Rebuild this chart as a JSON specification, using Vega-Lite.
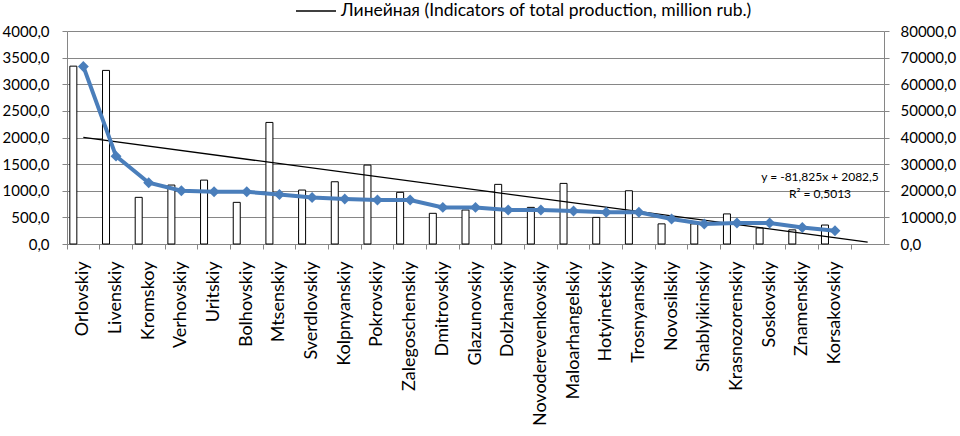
{
  "$schema": "https://vega.github.io/schema/vega-lite/v6.json",
  "width": 817,
  "height": 213,
  "autosize": "none",
  "padding": {"left": 67, "top": 31, "right": 76, "bottom": 192},
  "config": {
    "font": "Lato",
    "view": {"stroke": null},
    "axisY": {
      "title": null,
      "labelExpr": "replace(format(datum.value, '.1f'), '.', ',')",
      "labelFontSize": 15,
      "labelColor": "#000000",
      "labelOverlap": false,
      "tickSize": 5,
      "tickColor": "#868686",
      "domainColor": "#868686",
      "gridColor": "#868686"
    }
  },
  "datasets": {
    "districts": [
      {"district": "Orlovskiy", "indicator": 3340, "total": 66700},
      {"district": "Livenskiy", "indicator": 3260, "total": 33000},
      {"district": "Kromskoy", "indicator": 876, "total": 23000},
      {"district": "Verhovskiy", "indicator": 1107, "total": 20000},
      {"district": "Uritskiy", "indicator": 1200, "total": 19600},
      {"district": "Bolhovskiy", "indicator": 782, "total": 19600},
      {"district": "Mtsenskiy", "indicator": 2283, "total": 18600},
      {"district": "Sverdlovskiy", "indicator": 1013, "total": 17500},
      {"district": "Kolpnyanskiy", "indicator": 1169, "total": 16900},
      {"district": "Pokrovskiy", "indicator": 1482, "total": 16500},
      {"district": "Zalegoschenskiy", "indicator": 970, "total": 16500},
      {"district": "Dmitrovskiy", "indicator": 576, "total": 13750},
      {"district": "Glazunovskiy", "indicator": 638, "total": 13750},
      {"district": "Dolzhanskiy", "indicator": 1120, "total": 12750},
      {"district": "Novoderevenkovskiy", "indicator": 688, "total": 12750},
      {"district": "Maloarhangelskiy", "indicator": 1138, "total": 12400},
      {"district": "Hotyinetskiy", "indicator": 500, "total": 11900},
      {"district": "Trosnyanskiy", "indicator": 1000, "total": 11900},
      {"district": "Novosilskiy", "indicator": 378, "total": 9400},
      {"district": "Shablyikinskiy", "indicator": 378, "total": 7500},
      {"district": "Krasnozorenskiy", "indicator": 565, "total": 7900},
      {"district": "Soskovskiy", "indicator": 300, "total": 7900},
      {"district": "Znamenskiy", "indicator": 265, "total": 6200},
      {"district": "Korsakovskiy", "indicator": 356, "total": 5000}
    ],
    "trend": [
      {"district": "Orlovskiy", "value": 2000.7, "series": "Линейная (Indicators of total production, million rub.)"},
      {"district": "forecast", "value": 36.9, "series": "Линейная (Indicators of total production, million rub.)"}
    ],
    "equation": [
      {"district": "Korsakovskiy", "value": 1262, "label": "y = -81,825x + 2082,5"},
      {"district": "Korsakovskiy", "value": 938, "label": "R² = 0,5013"}
    ]
  },
  "encoding": {
    "x": {
      "field": "district",
      "type": "nominal",
      "sort": null,
      "scale": {
        "domain": ["Orlovskiy", "Livenskiy", "Kromskoy", "Verhovskiy", "Uritskiy", "Bolhovskiy", "Mtsenskiy", "Sverdlovskiy", "Kolpnyanskiy", "Pokrovskiy", "Zalegoschenskiy", "Dmitrovskiy", "Glazunovskiy", "Dolzhanskiy", "Novoderevenkovskiy", "Maloarhangelskiy", "Hotyinetskiy", "Trosnyanskiy", "Novosilskiy", "Shablyikinskiy", "Krasnozorenskiy", "Soskovskiy", "Znamenskiy", "Korsakovskiy", "forecast"],
        "paddingInner": 0,
        "paddingOuter": 0
      },
      "axis": {
        "title": null,
        "labelAngle": -90,
        "labelFontSize": 18,
        "labelColor": "#000000",
        "labelPadding": 12,
        "labelLimit": 300,
        "labelOverlap": false,
        "labelExpr": "datum.value == 'forecast' ? '' : datum.value",
        "bandPosition": 0,
        "ticks": true,
        "tickSize": 5,
        "tickColor": "#868686",
        "domainColor": "#868686",
        "grid": false
      }
    }
  },
  "layer": [
    {
      "layer": [
        {
          "data": {"name": "districts"},
          "mark": {"type": "bar", "fill": "#ffffff", "stroke": "#000000", "strokeWidth": 1, "width": 7, "xOffset": -10},
          "encoding": {
            "y": {
              "field": "indicator",
              "type": "quantitative",
              "scale": {"domain": [0, 4000], "nice": false},
              "axis": {"orient": "left", "values": [0, 500, 1000, 1500, 2000, 2500, 3000, 3500, 4000], "labelPadding": 13, "grid": true}
            }
          }
        },
        {
          "data": {"name": "trend"},
          "mark": {"type": "line", "strokeWidth": 1.3},
          "encoding": {
            "y": {
              "field": "value",
              "type": "quantitative",
              "axis": {"orient": "left", "values": [0, 500, 1000, 1500, 2000, 2500, 3000, 3500, 4000], "labelPadding": 13, "grid": true}
            },
            "color": {
              "field": "series",
              "type": "nominal",
              "scale": {"range": ["#000000"]},
              "legend": {
                "title": null,
                "orient": "none",
                "legendX": 228,
                "legendY": -41,
                "symbolType": "stroke",
                "symbolSize": 1600,
                "symbolStrokeWidth": 1.3,
                "labelFontSize": 17.5,
                "labelColor": "#000000",
                "labelLimit": 1000,
                "labelOffset": 4
              }
            }
          }
        },
        {
          "data": {"name": "equation"},
          "mark": {"type": "text", "fontSize": 12, "color": "#000000", "dx": -15, "align": "center", "baseline": "middle"},
          "encoding": {
            "y": {
              "field": "value",
              "type": "quantitative",
              "axis": {"orient": "left", "values": [0, 500, 1000, 1500, 2000, 2500, 3000, 3500, 4000], "labelPadding": 13, "grid": true}
            },
            "text": {"field": "label"}
          }
        }
      ]
    },
    {
      "data": {"name": "districts"},
      "layer": [
        {
          "mark": {"type": "line", "color": "#4a7ebb", "strokeWidth": 4},
          "encoding": {
            "y": {
              "field": "total",
              "type": "quantitative",
              "scale": {"domain": [0, 80000], "nice": false},
              "axis": {"orient": "right", "values": [0, 10000, 20000, 30000, 40000, 50000, 60000, 70000, 80000], "labelPadding": 11, "grid": false}
            }
          }
        },
        {
          "mark": {"type": "point", "shape": "diamond", "filled": true, "color": "#4a7ebb", "size": 120, "opacity": 1},
          "encoding": {
            "y": {
              "field": "total",
              "type": "quantitative",
              "axis": {"orient": "right", "values": [0, 10000, 20000, 30000, 40000, 50000, 60000, 70000, 80000], "labelPadding": 11, "grid": false}
            }
          }
        }
      ]
    }
  ],
  "resolve": {"scale": {"y": "independent"}}
}
